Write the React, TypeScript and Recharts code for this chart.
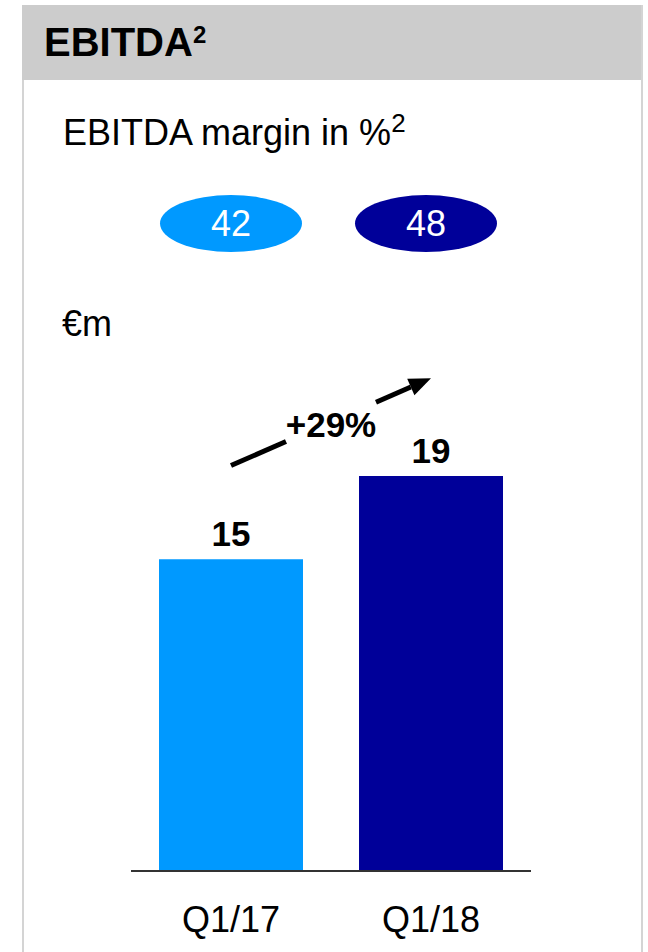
import React from "react";
import { BarChart, Bar, XAxis, YAxis, Cell, LabelList, ReferenceLine } from "recharts";

const quarters = ["Q1/17", "Q1/18"];
const ebitda = [15, 19];
const margins = [42, 48];
const barColors = ["#0099ff", "#000099"];
const growthLabel = "+29%";

const data = quarters.map((q, i) => ({ quarter: q, value: ebitda[i] }));

const FONT = "'Liberation Sans', Arial, Helvetica, sans-serif";

// arrow with a gap in the middle for the growth label
const GrowthArrow = (props: any) => {
  const { x1, y1, x2, y2 } = props;
  const dx = x2 - x1, dy = y2 - y1;
  const len = Math.sqrt(dx * dx + dy * dy);
  const ux = dx / len, uy = dy / len;
  const nx = -uy, ny = ux;
  const head = 22, half = 9;
  const bx = x2 - ux * head, by = y2 - uy * head;
  const at = (t: number) => [x1 + dx * t, y1 + dy * t];
  const [ax, ay] = at(0.275);
  const [cx, cy] = at(0.725);
  const [mx, my] = at(0.5);
  return (
    <g>
      <line x1={x1} y1={y1} x2={ax} y2={ay} stroke="#000" strokeWidth={5} />
      <line x1={cx} y1={cy} x2={bx} y2={by} stroke="#000" strokeWidth={5} />
      <polygon
        points={`${x2},${y2} ${bx + nx * half},${by + ny * half} ${bx - nx * half},${by - ny * half}`}
        fill="#000"
      />
      <text x={mx} y={my + 15} textAnchor="middle" fontSize={35} fontWeight={700} fontFamily={FONT} fill="#000">
        {growthLabel}
      </text>
    </g>
  );
};

const Sup = ({ size, lift }: { size: number; lift: number }) => (
  <span style={{ fontSize: size, position: "relative", top: -lift, fontWeight: "inherit" }}>2</span>
);

export default function App() {
  return (
    <div style={{ position: "absolute", left: 0, top: 0, width: 648, height: 952, background: "#fff", fontFamily: FONT, overflow: "hidden" }}>
      {/* panel frame */}
      <div style={{ position: "absolute", left: 22, top: 5, width: 617, height: 960, border: "2px solid #d4d4d4", borderTop: "none" }} />
      <div style={{ position: "absolute", left: 22, top: 5, width: 619, height: 75, background: "#cccccc" }} />
      <div style={{ position: "absolute", left: 44, top: 18, fontSize: 40, fontWeight: 700, color: "#000", lineHeight: "48px", whiteSpace: "nowrap" }}>
        EBITDA<Sup size={24} lift={13} />
      </div>
      <div style={{ position: "absolute", left: 63, top: 109, fontSize: 36, color: "#000", lineHeight: "48px", whiteSpace: "nowrap" }}>
        EBITDA margin in %<Sup size={26} lift={13} />
      </div>
      {margins.map((m, i) => (
        <div
          key={quarters[i]}
          style={{
            position: "absolute", left: 160 + i * 195, top: 195, width: 142, height: 57,
            borderRadius: "50%", background: barColors[i], color: "#fff", fontSize: 36,
            display: "flex", alignItems: "center", justifyContent: "center",
          }}
        >
          {m}
        </div>
      ))}
      <div style={{ position: "absolute", left: 62, top: 300, fontSize: 36, color: "#000", lineHeight: "48px" }}>€m</div>

      <div style={{ position: "absolute", left: 0, top: 0 }}>
        <BarChart
          width={648}
          height={952}
          data={data}
          margin={{ top: 372, right: 117, bottom: 21, left: 131 }}
          barCategoryGap="14%"
        >
          <XAxis
            dataKey="quarter"
            height={60}
            axisLine={{ stroke: "#333", strokeWidth: 2 }}
            tickLine={false}
            tickSize={0}
            tickMargin={35}
            tick={{ fontSize: 36, fill: "#000", fontFamily: FONT }}
          />
          <YAxis hide domain={[0, 24]} />
          <Bar dataKey="value" isAnimationActive={false}>
            {data.map((d, i) => (
              <Cell key={d.quarter} fill={barColors[i]} />
            ))}
            <LabelList dataKey="value" position="top" offset={13} fill="#000" fontSize={35} fontWeight={700} fontFamily={FONT} />
          </Bar>
          <ReferenceLine
            segment={[{ x: quarters[0], y: ebitda[1] + 0.5 }, { x: quarters[1], y: ebitda[1] + 4.7 }]}
            shape={GrowthArrow}
            ifOverflow="visible"
          />
        </BarChart>
      </div>
    </div>
  );
}
